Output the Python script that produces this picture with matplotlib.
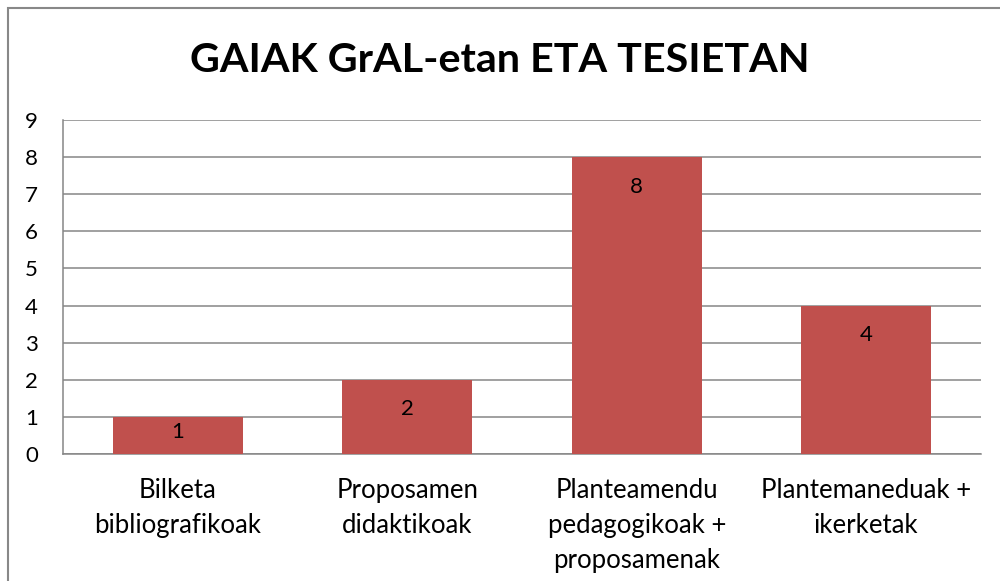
import matplotlib.pyplot as plt
from matplotlib.patches import Rectangle

# datos del gráfico
categories = ['Bilketa\nbibliografikoak', 'Proposamen\ndidaktikoak',
              'Planteamendu\npedagogikoak +\nproposamenak', 'Plantemaneduak +\nikerketak']
values = [1, 2, 8, 4]
yticks = [0, 1, 2, 3, 4, 5, 6, 7, 8, 9]

plt.rcParams['font.family'] = ['Lato', 'DejaVu Sans']

fig = plt.figure(figsize=(10, 5.81), dpi=100)
ax = fig.add_axes([0.063, 0.2186, 0.918, 0.5749])

x = list(range(len(values)))
ax.bar(x, values, width=0.566, color='#C0504D', zorder=3)

for xi, v in zip(x, values):
    ax.text(xi, v - min(0.8, 0.4 * v), str(v), ha='center', va='center',
            fontsize=16, color='black', zorder=4)

ax.set_xlim(-0.5, len(values) - 0.5)
ax.set_ylim(0, 9)
ax.set_yticks(yticks)
ax.set_yticklabels([str(t) for t in yticks], fontsize=16)
ax.set_xticks(x)
ax.set_xticklabels(categories, fontsize=18.5, linespacing=1.5, va='top')
ax.tick_params(axis='both', length=0)
ax.tick_params(axis='y', pad=18)
ax.tick_params(axis='x', pad=17)

ax.yaxis.grid(True, color='#868686', linewidth=1.1, zorder=0)
for s in ['top', 'right']:
    ax.spines[s].set_visible(False)
for s in ['left', 'bottom']:
    ax.spines[s].set_color('#868686')
    ax.spines[s].set_linewidth(1.1)

fig.text(0.5, 1 - 60 / 581, 'GAIAK GrAL-etan ETA TESIETAN', ha='center', va='center',
         fontsize=29.7, fontweight='bold')

# marco exterior del gráfico
fig.patches.append(Rectangle((0.008, -0.1), 1.2, 1.1 - 8 / 581, transform=fig.transFigure,
                             fill=False, edgecolor='#888888', linewidth=1.5))

fig.savefig('out.png', dpi=100)
